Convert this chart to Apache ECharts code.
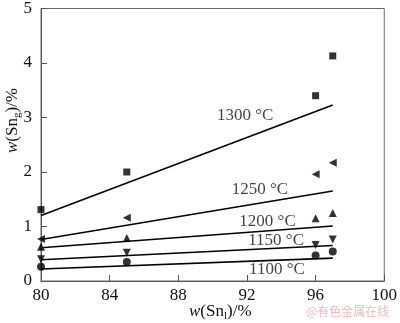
<!DOCTYPE html>
<html><head><meta charset="utf-8">
<script src="https://cdn.jsdelivr.net/npm/echarts@6/dist/echarts.min.js"></script>
<style>html,body{margin:0;padding:0;background:#fff}#c{width:400px;height:323px}</style>
</head><body><div id="c"></div>
<script>
const xTicks = [80, 84, 88, 92, 96, 100];
const yTicks = [0, 1, 2, 3, 4, 5];
const xData = [80, 85, 96, 97];
const temps = ['1300 °C', '1250 °C', '1200 °C', '1150 °C', '1100 °C'];
const s1300 = [1.31, 2.0, 3.4, 4.13];
const s1250 = [0.77, 1.16, 1.96, 2.17];
const s1200 = [0.63, 0.79, 1.15, 1.25];
const s1150 = [0.40, 0.52, 0.66, 0.76];
const s1100 = [0.26, 0.35, 0.47, 0.54];
const fitX = [80, 97];
const f1300 = [1.2, 3.23];
const f1250 = [0.76, 1.65];
const f1200 = [0.61, 1.01];
const f1150 = [0.39, 0.65];
const f1100 = [0.22, 0.42];
const labelPos = [[91.9, 3.03], [92.75, 1.67], [93.2, 1.09], [93.7, 0.75], [93.75, 0.21]];

const font = 'Liberation Serif, Times New Roman, serif';
const pts = [s1300, s1250, s1200, s1150, s1100];
const fits = [f1300, f1250, f1200, f1150, f1100];
const symbols = [['rect', 0, 7], ['triangle', 90, 8], ['triangle', 0, 8], ['triangle', 180, 8], ['circle', 0, 8]];

const series = [];
pts.forEach((p, i) => {
  series.push({
    type: 'scatter', data: xData.map((x, j) => [x, p[j]]),
    symbol: symbols[i][0], symbolRotate: symbols[i][1], symbolSize: symbols[i][2],
    itemStyle: { color: '#000' }, silent: true, z: 3
  });
  series.push({
    type: 'line', data: fitX.map((x, j) => [x, fits[i][j]]),
    symbol: 'none', lineStyle: { color: '#000', width: 1.6 }, silent: true, z: 2
  });
});
series.push({
  type: 'scatter', symbolSize: 0,
  data: labelPos.map((p, i) => ({ value: p, label: { show: true, formatter: temps[i] } })),
  label: { position: 'inside', fontFamily: font, fontSize: 17, color: '#111' }, silent: true
});

const chart = echarts.init(document.getElementById('c'), null, { renderer: 'canvas' });
chart.setOption({
  animation: false,
  backgroundColor: '#fff',
  grid: { left: 41, right: 13, top: 3, bottom: 42, show: true, borderColor: '#666', borderWidth: 1 },
  xAxis: {
    type: 'value', min: 80, max: 100, interval: 4,
    axisLine: { lineStyle: { color: '#555', width: 1 } },
    axisTick: { inside: true, length: 6, lineStyle: { color: '#555' } },
    splitLine: { show: false },
    axisLabel: { fontFamily: font, fontSize: 17, color: '#111', margin: 6,
      formatter: v => xTicks.includes(v) ? String(v) : '' }
  },
  yAxis: {
    type: 'value', min: 0, max: 5, interval: 1,
    axisLine: { lineStyle: { color: '#555', width: 1 } },
    axisTick: { inside: true, length: 6, lineStyle: { color: '#555' } },
    splitLine: { show: false },
    axisLabel: { fontFamily: font, fontSize: 17, color: '#111', margin: 9,
      formatter: v => yTicks.includes(v) ? String(v) : '' }
  },
  graphic: [
    {
      type: 'text', left: 189, top: 303,
      style: {
        text: '{i|w}{n|(Sn}{s|l}{n|)/%}',
        rich: {
          i: { fontFamily: font, fontStyle: 'italic', fontSize: 17, fill: '#111' },
          n: { fontFamily: font, fontSize: 17, fill: '#111' },
          s: { fontFamily: font, fontSize: 11, fill: '#111', padding: [9, 0, 0, 0] }
        }
      }
    },
    {
      type: 'text', x: 3, y: 153, rotation: Math.PI / 2,
      style: {
        text: '{i|w}{n|(Sn}{s|g}{n|)/%}',
        rich: {
          i: { fontFamily: font, fontStyle: 'italic', fontSize: 17, fill: '#111' },
          n: { fontFamily: font, fontSize: 17, fill: '#111' },
          s: { fontFamily: font, fontSize: 11, fill: '#111', padding: [9, 0, 0, 0] }
        }
      }
    },
    {
      type: 'text', left: 306, top: 305,
      style: { text: '@有色金属在线', fontFamily: 'Noto Sans CJK SC', fontSize: 12, fill: '#f2b8b8' }
    }
  ],
  series: series
});
</script></body></html>
